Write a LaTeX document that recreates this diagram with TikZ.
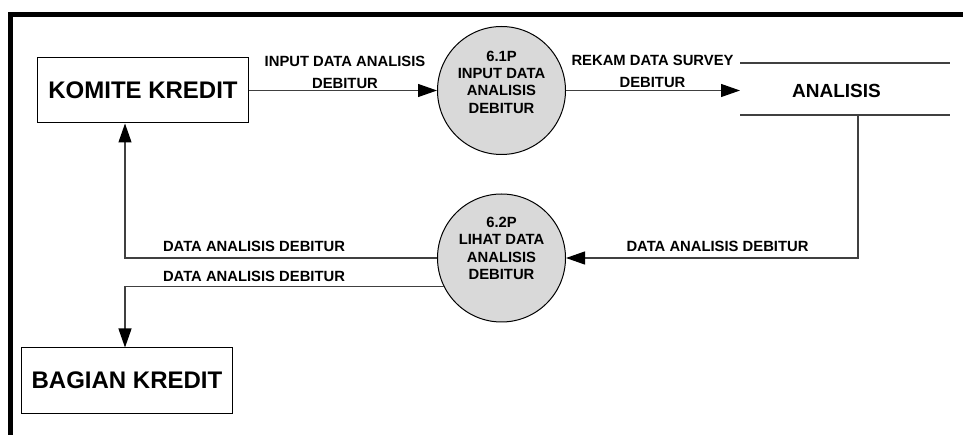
\documentclass[tikz,border=0pt]{standalone}
\usepackage{fontspec}
\setmainfont{Liberation Sans}
\usetikzlibrary{arrows.meta,calc}
\definecolor{linegray}{HTML}{404040}
\definecolor{procfill}{HTML}{D9D9D9}
\tikzset{
  entity/.style={draw=black,line width=1bp,minimum width=210bp,minimum height=65bp,inner sep=0pt,font=\fontsize{24bp}{28bp}\selectfont\bfseries},
  proc/.style={circle,draw=black,line width=1bp,fill=procfill,minimum size=128bp,inner sep=0pt},
  proctext/.style={align=center,inner sep=0pt,font=\fontsize{14.8bp}{17.3bp}\selectfont\bfseries},
  flowlabel/.style={align=center,inner sep=0pt,font=\fontsize{14.8bp}{22bp}\selectfont\bfseries},
  flow/.style={draw=linegray,line width=1.2bp,-{Triangle[length=19bp,width=13bp,color=black,fill=black]}},
  storeline/.style={draw=linegray,line width=1.2bp},
}
\begin{document}
\begin{tikzpicture}[x=1bp,y=-1bp]
\useasboundingbox (0,0) rectangle (963,435);
% frame
\draw[line width=5bp] (10.5,440) -- (10.5,14.5) -- (970,14.5);
% entities
\node[entity] (kk) at (143,90.5) {KOMITE KREDIT};
\node[entity] (bk) at (127,380.5) {BAGIAN KREDIT};
% processes
\node[proc] (p1) at (501.5,90.5) {};
\node[proctext] (p1t) at (501.5,82) {6.1P\\INPUT DATA\\ANALISIS\\DEBITUR};
\node[proc] (p2) at (501.5,258) {};
\node[proctext] (p2t) at (501.5,248.5) {6.2P\\LIHAT DATA\\ANALISIS\\DEBITUR};
% data store
\coordinate (dsw) at (740,90.5);
\node[inner sep=0pt,font=\fontsize{19bp}{22bp}\selectfont\bfseries] (ds) at (836.5,91) {ANALISIS};
\coordinate (dstl) at (740,63);
\coordinate (dstr) at (950,63);
\coordinate (dsbl) at (740,115);
\coordinate (dsbr) at (950,115);
\coordinate (dsout) at (858,115);
\draw[storeline] (dstl) -- (dstr);
\draw[storeline] (dsbl) -- (dsbr);
% flows
\draw[flow] (kk.east) -- (p1.west);
\draw[flow] (p1.east) -- (dsw);
\draw[flow] (dsout) |- (p2.east);
\draw[flow] (p2.west) -| ([xshift=87.5bp]kk.south west);
\draw[flow] (p2.206) -| ([xshift=103.5bp]bk.north west);
% labels
\node[flowlabel] (l1) at (345,72) {INPUT DATA ANALISIS\\DEBITUR};
\node[flowlabel] (l2) at (652.5,71.5) {REKAM DATA SURVEY\\DEBITUR};
\node[flowlabel] (l3) at (717.5,246) {DATA ANALISIS DEBITUR};
\node[flowlabel] (l4) at (254,246) {DATA ANALISIS DEBITUR};
\node[flowlabel] (l5) at (254,276) {DATA ANALISIS DEBITUR};
\end{tikzpicture}
\end{document}
